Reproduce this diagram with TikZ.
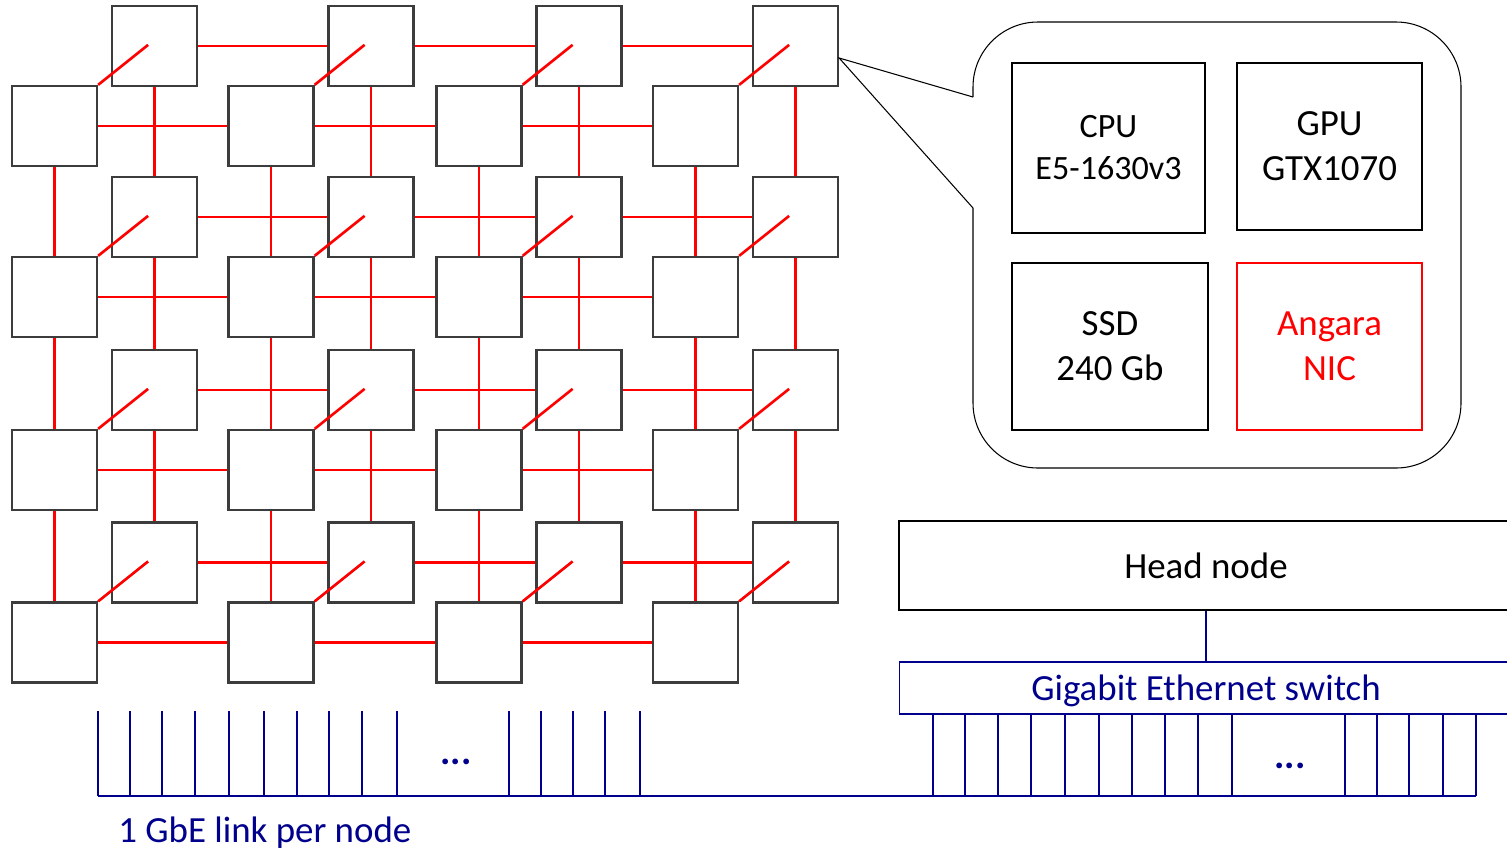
\documentclass[tikz,border=0pt]{standalone}
\usepackage{fontspec}
\setmainfont{Carlito}
\usetikzlibrary{positioning, calc}
\definecolor{ethblue}{RGB}{0,0,140}
\definecolor{boxgray}{RGB}{60,60,60}

\begin{document}
\begin{tikzpicture}[
        x=0.02cm, y=-0.02cm,
        server/.style={rectangle, draw=boxgray, line width=1.3pt, fill=white, minimum width=1.7cm, minimum height=1.6cm, inner sep=0pt},
        link/.style={red, line width=1.5pt},
        part/.style={rectangle, draw=black, line width=0.8pt, align=center, inner sep=0pt, font=\fontsize{21}{25.6}\selectfont},
        eth/.style={ethblue, line width=1.2pt},
        ethtext/.style={text=ethblue, inner sep=0pt, font=\fontsize{21}{25.6}\selectfont}
    ]
        \useasboundingbox (0,0) rectangle (1507,853);
        \clip (0,0) rectangle (1507,853);

        % --- CLUSTER NODES ---
        \foreach \x [count=\i] in {54.5,271,479,695.5}
            \foreach \y [count=\j] in {126,297,470,642.5} {
                \node[server] (f-\i-\j) at (\x,\y) {};
                \node[server] (b-\i-\j) at (\x+100,\y-80) {};
            }

        % --- ANGARA LINKS ---
        \foreach \i in {1,2,3,4}
            \foreach \j/\k in {1/2,2/3,3/4} {
                \draw[link] (f-\i-\j) -- (f-\i-\k);
                \draw[link] (b-\i-\j) -- (b-\i-\k);
                \draw[link] (f-\j-\i) -- (f-\k-\i);
                \draw[link] (b-\j-\i) -- (b-\k-\i);
            }
        \foreach \i in {1,2,3,4}
            \foreach \j in {1,2,3,4}
                \draw[link] (f-\i-\j.north east) -- ++(50,-40);

        % --- NODE DETAIL ---
        \draw[line width=0.6pt] (973,97) -- ($(b-4-1.east)+(0,12)$) -- (973,208);
        \draw[line width=0.6pt, rounded corners=1.3cm] (973,208) -- (973,468) -- (1461,468) -- (1461,22) -- (973,22) -- (973,97);

        \node[part, minimum width=3.86cm, minimum height=3.4cm, font=\fontsize{19.4}{23.9}\selectfont] (cpu) at (1108.5,148) {CPU\\E5-1630v3};
        \node[part, minimum width=3.7cm, minimum height=3.34cm] (gpu) at (1329.5,146.5) {GPU\\GTX1070};
        \node[part, minimum width=3.92cm, minimum height=3.34cm] (ssd) at (1110,346.5) {SSD\\240 Gb};
        \node[part, draw=red, text=red, minimum width=3.7cm, minimum height=3.34cm] (nic) at (1329.5,346.5) {Angara\\NIC};

        % --- ETHERNET ---
        \node[part, minimum width=12.28cm, minimum height=1.78cm] (head) at (1206,565.5) {Head node};
        \node[part, draw=ethblue, text=ethblue, line width=0.6pt, minimum width=12.28cm, minimum height=1.04cm, text depth=0pt] (switch) at (1206,688) {Gigabit Ethernet switch};
        \draw[eth, line width=1pt] (head) -- (switch);

        \coordinate (bus) at (0,796);
        \foreach \x in {933,965,998,1031,1065,1099,1132,1165,1198,1232,1345,1377,1409,1443,1476}
            \draw[eth, line width=1pt] (\x,0 |- switch.south) -- (\x,0 |- bus);
        \foreach \x in {98,130,162,195,229,264,297,329,362,397,509,541,573,605,640}
            \draw[eth] (\x,711) -- (\x,0 |- bus);
        \draw[eth] (98,0 |- bus) -- (1476,0 |- bus);

        \node[ethtext, font=\bfseries\fontsize{22}{26}\selectfont] (dotsL) at (456,762) {...};
        \node[ethtext, font=\bfseries\fontsize{22}{26}\selectfont] (dotsR) at (1290,766) {...};
        \node[ethtext, anchor=west] (gbe) at (118,833) {1 GbE link per node};

    \end{tikzpicture}
\end{document}
